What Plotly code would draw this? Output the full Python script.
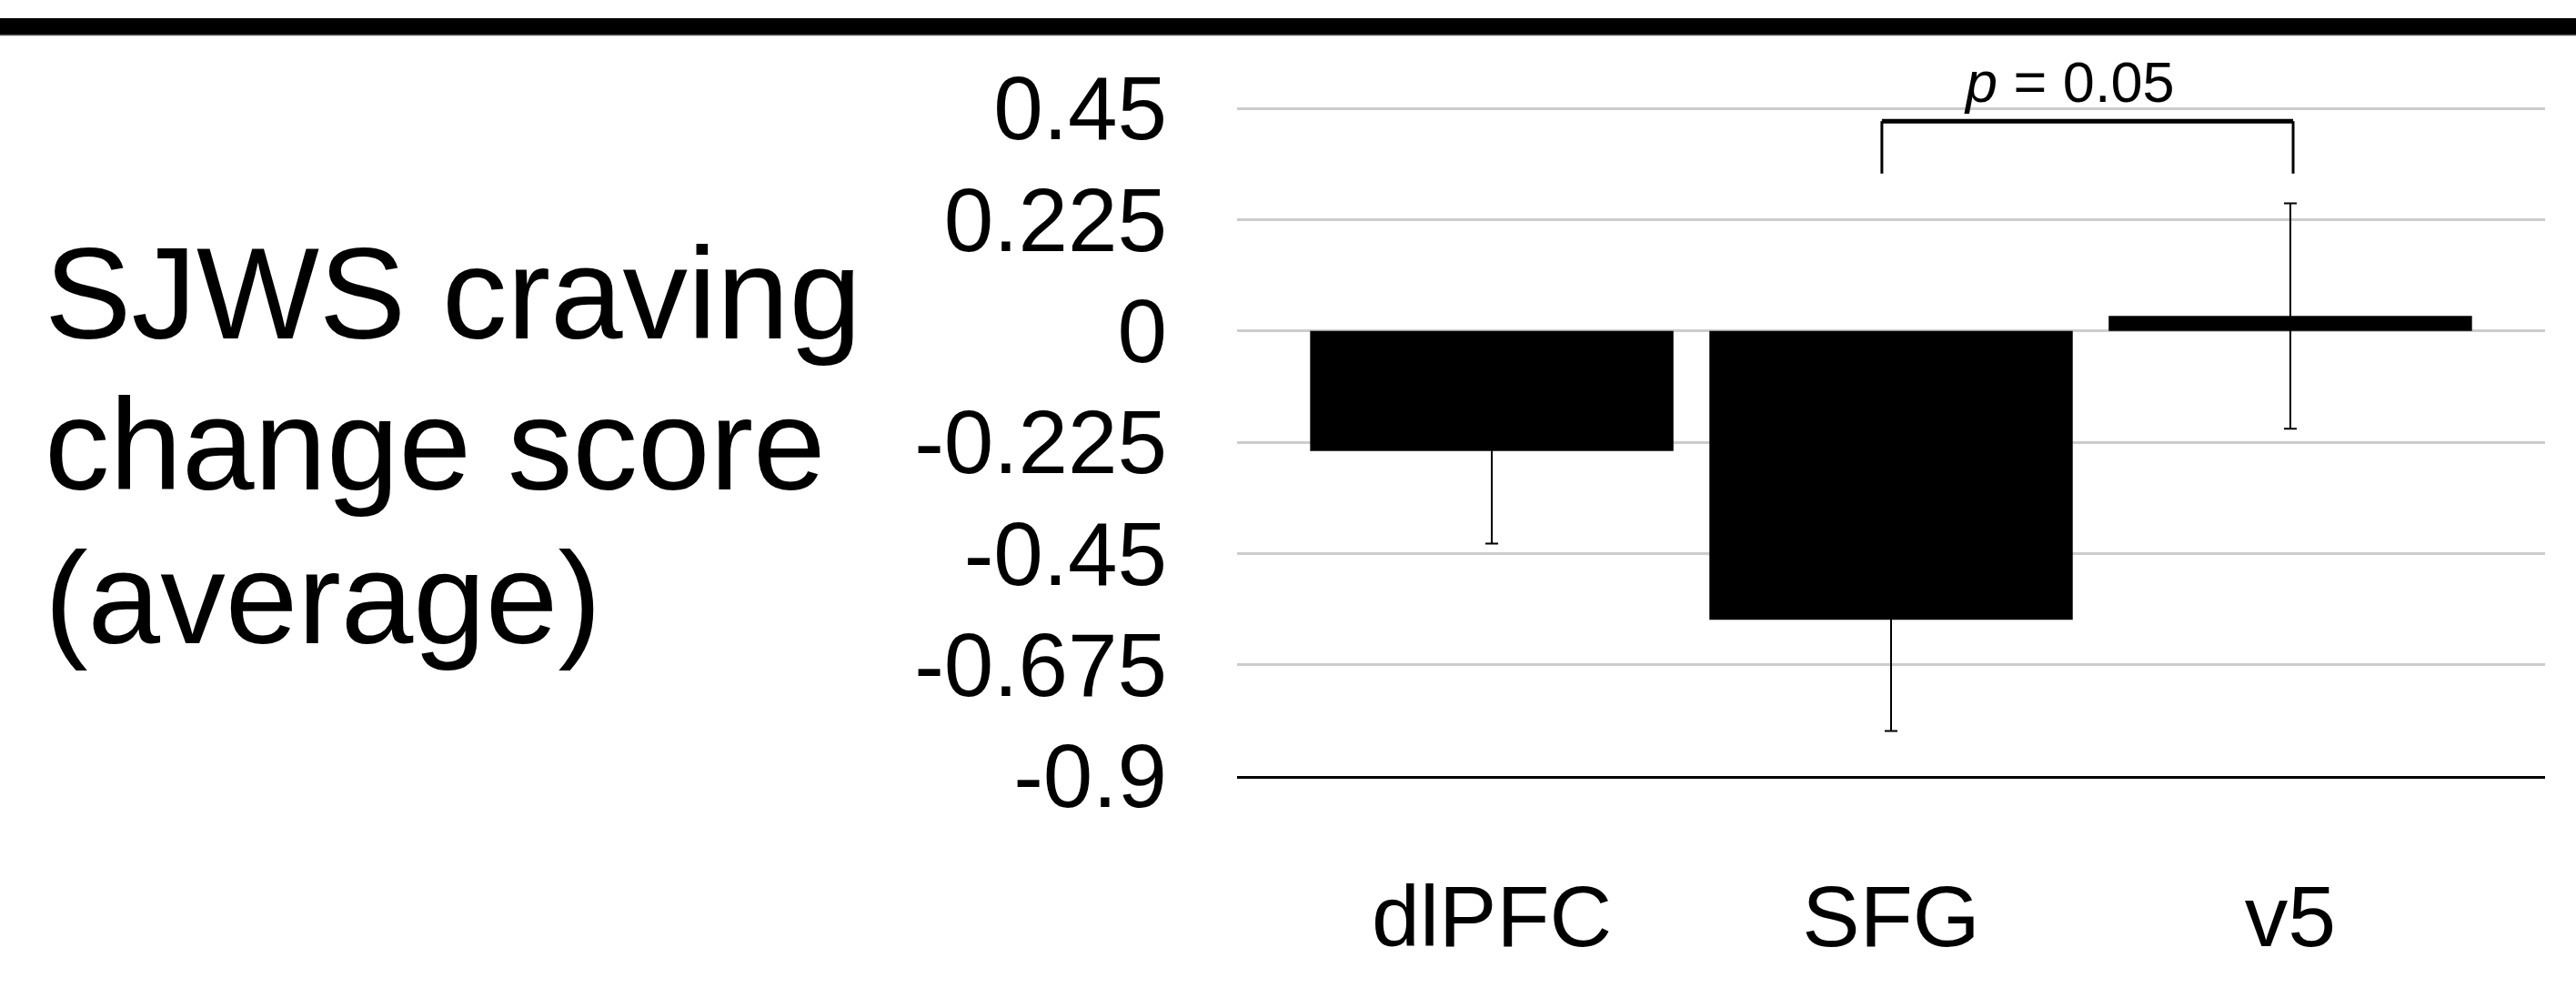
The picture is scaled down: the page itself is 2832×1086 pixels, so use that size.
import plotly.graph_objects as go

# ---- data ----
regions = ["dlPFC", "SFG", "v5"]
mean_change = [-0.243, -0.584, 0.030]
sem_change = [0.187, 0.225, 0.228]
y_tick_vals = [0.45, 0.225, 0, -0.225, -0.45, -0.675, -0.9]
y_tick_text = ["0.45", "0.225", "0", "-0.225", "-0.45", "-0.675", "-0.9"]
title_lines = ["SJWS craving", "change score", "(average)"]
p_label = "<i>p</i> = 0.05"
bracket_pair = (0.977, 2.007)   # SFG -> v5 (category positions)
bracket_y = (0.424, 0.318)

FONT = "Liberation Sans, Arial, Helvetica, sans-serif"
W, H = 2832, 1086
L, R, T, B = 1360, 34, 114, 233
PW, PH = W - L - R, H - T - B
Y_LO, Y_HI = -0.9, 0.45 + 5 / 543.7

def px_to_paper_x(px):
    return (px - L) / PW

def px_to_paper_y(py):
    return (H - B - py) / PH

fig = go.Figure()
fig.add_trace(go.Bar(
    x=regions, y=mean_change,
    marker=dict(color="black", line=dict(width=0)),
    error_y=dict(type="data", array=sem_change, visible=True,
                 color="black", thickness=2, width=7),
    width=0.91,
))

# top black band
fig.add_shape(type="rect", xref="paper", yref="paper",
              x0=-1.0, x1=1.1, y0=px_to_paper_y(38), y1=px_to_paper_y(20),
              fillcolor="black", line=dict(width=0), layer="above")
fig.add_shape(type="line", xref="paper", yref="paper",
              x0=-1.0, x1=1.1, y0=px_to_paper_y(38.5), y1=px_to_paper_y(38.5),
              line=dict(color="#555555", width=1.5))

# significance bracket
x0b, x1b = bracket_pair
ytop, ybot = bracket_y
fig.add_shape(type="line", xref="x", yref="y", x0=x0b, x1=x1b, y0=ytop, y1=ytop,
              line=dict(color="black", width=5))
fig.add_shape(type="line", xref="x", yref="y", x0=x0b, x1=x0b, y0=ytop, y1=ybot,
              line=dict(color="black", width=3))
fig.add_shape(type="line", xref="x", yref="y", x0=x1b, x1=x1b, y0=ytop, y1=ybot,
              line=dict(color="black", width=3))

fig.add_annotation(text=p_label, xref="paper", yref="paper",
                   x=px_to_paper_x(2274), y=px_to_paper_y(90),
                   xanchor="center", yanchor="middle", showarrow=False,
                   font=dict(family=FONT, size=63, color="black"))

# y title as three left-aligned lines
for line, cy in zip(title_lines, [322, 488, 657]):
    fig.add_annotation(text=line, xref="paper", yref="paper",
                       x=px_to_paper_x(47), y=px_to_paper_y(cy),
                       xanchor="left", yanchor="middle", showarrow=False,
                       font=dict(family=FONT, size=143, color="black"))

fig.update_layout(
    width=W, height=H,
    margin=dict(l=L, r=R, t=T, b=B, autoexpand=False),
    paper_bgcolor="white", plot_bgcolor="white",
    showlegend=False,
    bargap=0.09,
    font=dict(family=FONT, color="black"),
)
fig.update_xaxes(
    range=[-0.638, 2.638],
    showgrid=False, zeroline=False,
    showline=True, linecolor="black", linewidth=3,
    ticks="", tickfont=dict(family=FONT, size=95, color="black"),
    ticklabelstandoff=70,
)
fig.update_yaxes(
    range=[Y_LO, Y_HI],
    tickmode="array", tickvals=y_tick_vals, ticktext=y_tick_text,
    showgrid=True, gridcolor="#cccccc", gridwidth=2.5,
    zeroline=False, showline=False,
    ticks="", tickfont=dict(family=FONT, size=98, color="black"),
    ticklabelstandoff=76,
)

fig.write_html("out.html")
